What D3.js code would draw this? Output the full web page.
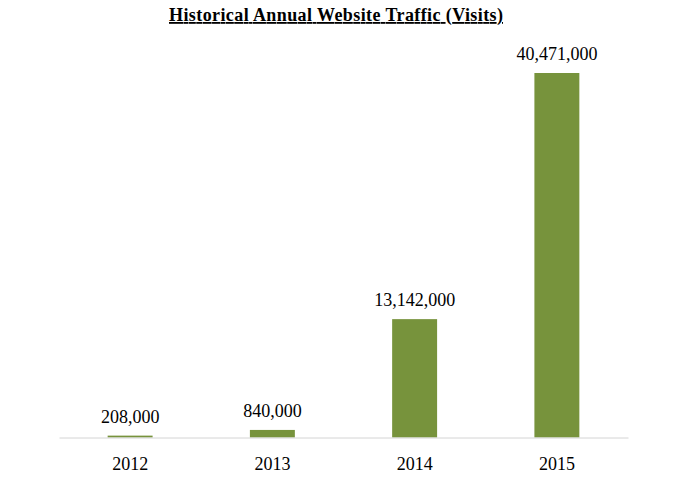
<!DOCTYPE html>
<html>
<head>
<meta charset="utf-8">
<script src="https://cdn.jsdelivr.net/npm/d3@7/dist/d3.min.js"></script>
<style>
  html, body { margin: 0; padding: 0; background: #fff; }
  svg { display: block; }
</style>
</head>
<body>
<script>
const years = ["2012", "2013", "2014", "2015"];
const visits = [208000, 840000, 13142000, 40471000];
const title = "Historical Annual Website Traffic (Visits)";

const W = 678, H = 483;
const baseY = 437.5;

const svg = d3.select("body").append("svg").attr("width", W).attr("height", H);

const x = d3.scaleBand().domain(years).range([59, 628]).paddingInner(0.684).paddingOuter(0.342);
const y = d3.scaleLinear().domain([0, 40471000]).range([baseY, 73]);

const data = years.map((yr, i) => ({ year: yr, value: visits[i] }));

// bars
svg.append("g").selectAll("rect").data(data).enter().append("rect")
  .attr("x", d => x(d.year))
  .attr("y", d => y(d.value))
  .attr("width", x.bandwidth())
  .attr("height", d => baseY - y(d.value))
  .attr("fill", "#77933c");

// axis
const axis = svg.append("g").attr("transform", `translate(0,${baseY})`)
  .call(d3.axisBottom(x).tickSize(0).tickPadding(20));
axis.select(".domain").attr("stroke", "#d4d4d4").attr("stroke-width", 1);
axis.selectAll("text")
  .attr("font-family", "'Liberation Serif', 'Times New Roman', serif")
  .attr("font-size", "18px")
  .attr("fill", "#000");

// value labels
const fmt = d3.format(",");
svg.append("g").selectAll("text").data(data).enter().append("text")
  .attr("x", d => x(d.year) + x.bandwidth() / 2)
  .attr("y", d => y(d.value) - 13)
  .attr("text-anchor", "middle")
  .attr("font-family", "'Liberation Serif', 'Times New Roman', serif")
  .attr("font-size", "18px")
  .attr("fill", "#000")
  .text(d => fmt(d.value));

// title
svg.append("text")
  .attr("x", 336)
  .attr("y", 21)
  .attr("text-anchor", "middle")
  .attr("font-family", "'Liberation Serif', 'Times New Roman', serif")
  .attr("font-size", "18px")
  .attr("font-weight", "bold")
  .attr("text-decoration", "underline")
  .attr("textLength", 334)
  .attr("lengthAdjust", "spacing")
  .attr("fill", "#000")
  .text(title);
</script>
</body>
</html>
